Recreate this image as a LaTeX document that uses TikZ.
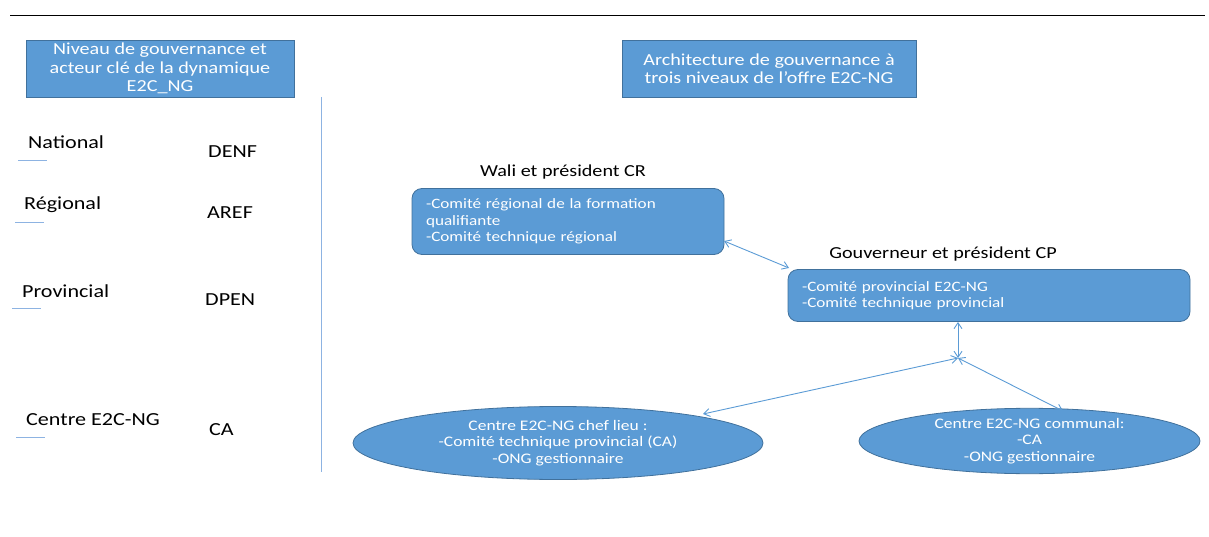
\documentclass[tikz,border=0pt]{standalone}
\usepackage{fontspec}
\setmainfont{Carlito}[FakeStretch=1.2]
\usetikzlibrary{arrows.meta,shapes.geometric}
\definecolor{bfill}{HTML}{5B9BD5}
\definecolor{bdraw}{HTML}{41719C}
\definecolor{lblue}{HTML}{8DB3E2}
\tikzset{
  hdr/.style={rectangle,fill=bfill,draw=bdraw,line width=0.8pt,text=white,align=center,font=\fontsize{16.8}{18.5}\selectfont,inner sep=0pt},
  rbox/.style={rectangle,rounded corners=10pt,fill=bfill,draw=bdraw,line width=0.8pt,text=white,align=left,font=\fontsize{14.3}{16.5}\selectfont,inner sep=0pt},
  ell/.style={ellipse,fill=bfill,draw=bdraw,line width=0.8pt,text=white,align=center,font=\fontsize{14.6}{16.8}\selectfont,inner sep=0pt},
  lbl/.style={font=\fontsize{18.4}{20}\selectfont,inner sep=0pt,anchor=west},
  ttl/.style={font=\fontsize{16.8}{19}\selectfont,inner sep=0pt},
  uline/.style={draw=lblue,line width=0.8pt},
  conn/.style={draw=bfill,line width=0.9pt,{Straight Barb[length=6pt,width=8pt]}-{Straight Barb[length=6pt,width=8pt]}}
}
\begin{document}
\begin{tikzpicture}[x=1pt,y=-1pt]
\useasboundingbox (0,0) rectangle (1209,537);
% top rule
\coordinate (tl) at (10,15);
\coordinate (tr) at (1205,15);
\draw[line width=0.8pt] (tl) -- (tr);
% headers
\node[hdr,minimum width=268,minimum height=57] (h1) at (160,68.5) {Niveau de gouvernance et\\acteur clé de la dynamique\\E2C\_NG};
\node[hdr,minimum width=294,minimum height=57] (h2) at (769,68.5) {Architecture de gouvernance à\\trois niveaux de l’offre E2C-NG};
% vertical separator
\coordinate (vt) at (321,97);
\coordinate (vb) at (321,472);
\draw[draw=lblue,line width=1pt] (vt) -- (vb);
% left labels
\node[lbl] (nat) at (28,142) {National};
\node[lbl] (reg) at (24,205) {Régional};
\node[lbl] (prov) at (22,291) {Provincial};
\node[lbl] (cen) at (26,420) {Centre E2C-NG};
\node[lbl] (denf) at (208,152) {DENF};
\node[lbl] (aref) at (207,213) {AREF};
\node[lbl] (dpen) at (205,300) {DPEN};
\node[lbl] (ca) at (209,430) {CA};
\coordinate (u1a) at (18,160); \coordinate (u1b) at (47,160);
\coordinate (u2a) at (15,222); \coordinate (u2b) at (44,222);
\coordinate (u3a) at (12,308); \coordinate (u3b) at (41,308);
\coordinate (u4a) at (16,437); \coordinate (u4b) at (45,437);
\draw[uline] (u1a) -- (u1b);
\draw[uline] (u2a) -- (u2b);
\draw[uline] (u3a) -- (u3b);
\draw[uline] (u4a) -- (u4b);
% right diagram
\node[ttl] (t1) at (563,172) {Wali et président CR};
\node[rbox,minimum width=312,minimum height=66,text width=284] (b1) at (568,221.5) {-Comité régional de la formation\\qualifiante\\-Comité technique régional};
\node[ttl] (t2) at (943,254) {Gouverneur et président CP};
\node[rbox,minimum width=402,minimum height=52,text width=374] (b2) at (989,295.5) {-Comité provincial E2C-NG\\-Comité technique provincial};
\node[ell,minimum width=410,minimum height=73] (e1) at (558,443) {Centre E2C-NG chef lieu :\\-Comité technique provincial (CA)\\-ONG gestionnaire};
\node[ell,minimum width=341,minimum height=58] (e2) at (1029.5,441) {Centre E2C-NG communal:\\-CA\\-ONG gestionnaire};
% connectors
\coordinate (j) at (958,358);
\coordinate (b1r) at (724,241);
\coordinate (b2l) at (789,268);
\coordinate (e1t) at (703,414);
\coordinate (e2t) at (1063,411);
\draw[conn] (b1r) -- (b2l);
\draw[conn] (b2.south -| j) -- (j);
\draw[conn] (e1t) -- (j);
\draw[conn] (j) -- (e2t);
\end{tikzpicture}
\end{document}
